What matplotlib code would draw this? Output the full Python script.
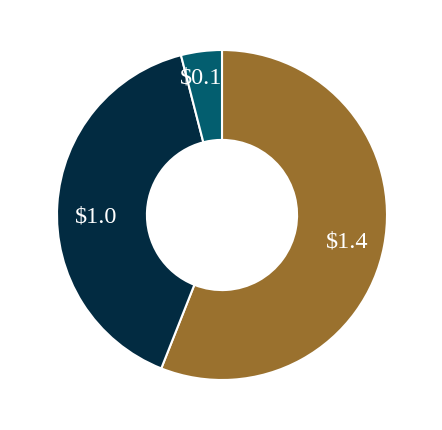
import math
import matplotlib.pyplot as plt

labels = ['$1.4', '$1.0', '$0.1']
values = [1.4, 1.0, 0.1]
colors = ['#9a712e', '#022b41', '#035e6f']

fig = plt.figure(figsize=(4.42, 4.30), dpi=100)
ax = fig.add_axes([0, 0, 1, 1])

ax.pie(
    values,
    colors=colors,
    startangle=90,
    counterclock=False,
    radius=1.0,
    wedgeprops=dict(width=0.545, edgecolor='white', linewidth=1.5),
)

# label radius and a small angle nudge (degrees) per slice
label_r = [0.775, 0.76, 0.84]
label_nudge = [-1.5, 4.5, 1.5]

start = 90.0
total = sum(values)
for lab, val, r, nd in zip(labels, values, label_r, label_nudge):
    span = 360.0 * val / total
    mid = math.radians(start - span / 2 + nd)
    ax.text(r * math.cos(mid), r * math.sin(mid), lab, ha='center', va='center',
            color='white', fontsize=17.5, family='Liberation Serif')
    start -= span

R = 165.0
ax.set_xlim(-222 / R, 220 / R)
ax.set_ylim(-215 / R, 215 / R)
ax.axis('off')

fig.savefig('out.png', dpi=100)
